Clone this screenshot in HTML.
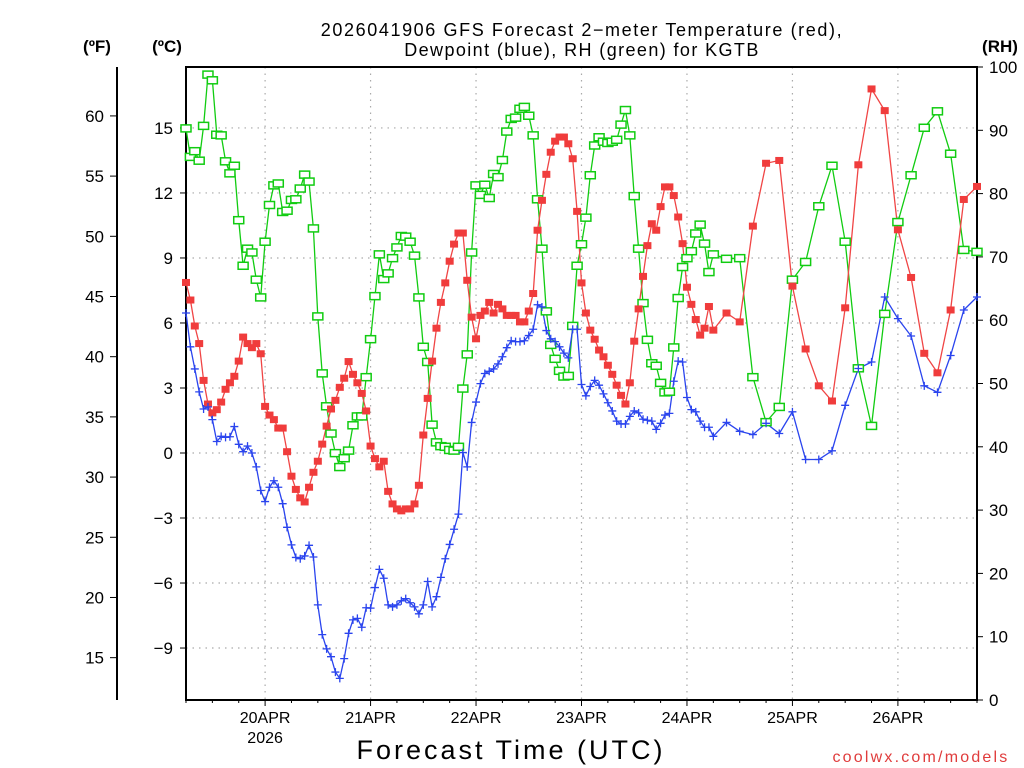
<!DOCTYPE html>
<html><head><meta charset="utf-8">
<style>
html,body{margin:0;padding:0;background:#fff;}
svg{display:block;font-family:"Liberation Sans",sans-serif;}
</style></head>
<body>
<svg id="chart" width="1024" height="768" viewBox="0 0 1024 768">
<text x="582" y="36" font-size="18" text-anchor="middle" letter-spacing="1.6">2026041906 GFS Forecast 2−meter Temperature (red),</text>
<text x="582" y="56" font-size="18" text-anchor="middle" letter-spacing="1.4">Dewpoint (blue), RH (green) for KGTB</text>
<text x="97" y="52" font-size="17" font-weight="bold" text-anchor="middle">(ºF)</text>
<text x="167" y="52" font-size="17" font-weight="bold" text-anchor="middle">(ºC)</text>
<text x="1000" y="52" font-size="17" font-weight="bold" text-anchor="middle">(RH)</text>
<text x="511" y="759" font-size="27" text-anchor="middle" letter-spacing="3">Forecast Time (UTC)</text>
<text x="921" y="762" font-size="16" fill="#e03c3c" text-anchor="middle" letter-spacing="2.2">coolwx.com/models</text>
<g id="grid"></g>
<g id="axes"></g>
<g id="series"></g>
</svg>
<script>
const hours = [0,1,2,3,4,5,6,7,8,9,10,11,12,13,14,15,16,17,18,19,20,21,22,23,24,25,26,27,28,29,30,31,32,33,34,35,36,37,38,39,40,41,42,43,44,45,46,47,48,49,50,51,52,53,54,55,56,57,58,59,60,61,62,63,64,65,66,67,68,69,70,71,72,73,74,75,76,77,78,79,80,81,82,83,84,85,86,87,88,89,90,91,92,93,94,95,96,97,98,99,100,101,102,103,104,105,106,107,108,109,110,111,112,113,114,115,116,117,118,119,120,123,126,129,132,135,138,141,144,147,150,153,156,159,162,165,168,171,174,177,180];
const tempC = [7.87,7.06,5.86,5.05,3.35,2.26,1.85,2.0,2.35,2.94,3.24,3.54,4.24,5.35,5.05,4.86,5.05,4.58,2.15,1.75,1.54,1.15,1.15,0.06,-1.07,-1.68,-2.07,-2.26,-1.58,-0.89,-0.38,0.41,1.24,2.03,2.43,3.03,3.45,4.22,3.63,3.24,2.75,1.94,0.32,-0.26,-0.64,
-0.38,-1.77,-2.35,-2.58,-2.67,-2.58,-2.58,-2.35,-1.49,0.83,2.52,4.24,5.76,6.95,7.85,8.85,9.64,10.15,10.15,7.97,6.27,5.27,6.35,6.55,6.95,6.46,6.86,6.65,6.35,6.35,6.35,6.05,6.05,6.55,7.36,10.28,11.66,12.86,13.88,14.39,14.58,14.58,14.27,13.58,11.15,7.85,
6.46,5.67,5.25,4.75,4.44,4.05,3.63,3.13,2.66,2.26,3.24,5.16,6.65,8.15,9.57,10.58,10.28,11.37,12.28,12.28,11.88,10.89,9.66,7.65,6.86,6.16,5.44,5.76,6.76,5.67,
6.46,6.05,10.47,13.37,13.5,7.7,4.8,3.1,2.4,6.7,13.3,16.8,15.8,10.3,8.1,4.6,3.7,6.6,11.7,12.3];
const dewC = [6.46,4.90,3.88,2.82,2.03,2.13,1.54,0.53,0.77,0.72,0.75,1.22,0.40,0.06,0.32,0,-0.64,-1.73,-2.24,-1.58,-1.28,-1.58,-2.34,-3.43,-4.24,-4.82,-4.88,-4.75,-4.26,-4.80,-7.01,-8.38,-9.04,-9.40,-10.11,-10.40,-9.49,-8.32,-7.70,-7.63,-8.04,-7.14,-7.16,-6.21,-5.37,
-5.78,-7.01,-7.10,-7.01,-6.82,-6.72,-6.91,-7.10,-7.42,-7.01,-5.93,-7.10,-6.63,-5.74,-4.88,-4.22,-3.52,-2.82,0.02,-0.64,1.41,2.35,3.20,3.67,3.77,3.88,4.11,4.44,4.86,5.18,5.14,5.14,5.18,5.42,5.71,6.84,6.74,5.65,5.27,5.14,4.90,4.61,4.39,5.71,5.71,
3.16,2.64,3.07,3.35,3.13,2.73,2.32,1.94,1.47,1.34,1.34,1.69,1.94,1.85,1.56,1.51,1.47,1.09,1.37,1.75,1.83,3.31,4.24,4.20,2.56,2.00,1.90,1.47,1.19,1.19,0.77,
1.41,1.00,0.85,1.37,0.9,1.9,-0.3,-0.3,0.1,2.2,3.9,4.2,7.2,6.2,5.4,3.1,2.8,4.5,6.6,7.2];
const rh = [90.3,85.8,86.7,85.2,90.7,98.8,97.9,89.3,89.2,85.1,83.2,84.4,75.8,68.6,71.3,70.7,66.4,63.6,72.4,78.2,81.3,81.6,77.1,77.3,79.0,79.1,80.8,83.0,81.9,74.5,60.6,51.6,46.4,42.1,39.0,36.8,38.2,39.4,43.4,44.8,44.8,51.0,57.0,63.8,70.4,
66.5,67.4,69.8,71.5,73.3,73.2,72.4,70.2,63.6,55.8,53.4,43.5,40.7,40.1,40.0,39.5,39.4,40.0,49.2,54.6,70.7,81.3,79.8,81.4,79.3,83.1,82.6,85.3,89.8,91.8,92.0,93.4,93.7,92.3,89.2,79.1,71.3,61.4,56.1,53.9,52.0,51.1,51.2,59.1,68.6,
72.0,76.2,82.9,87.6,88.9,88.2,88.0,88.2,88.5,90.9,93.2,89.2,79.6,71.3,62.7,56.9,53.2,52.8,50.1,48.6,48.7,55.7,63.5,68.4,69.8,70.9,73.7,75.1,72.1,67.6,70.4,
69.7,69.8,51.0,43.9,46.3,66.4,69.2,78.0,84.4,72.4,52.4,43.3,61.0,75.5,82.9,90.4,93.0,86.3,71.1,70.8];
const dayHours = [18,42,66,90,114,138,162];
const dayLabels = ["20APR","21APR","22APR","23APR","24APR","25APR","26APR"];
const cTicks = [-9,-6,-3,0,3,6,9,12,15];
const fTicks = [15,20,25,30,35,40,45,50,55,60];
const rhTicks = [0,10,20,30,40,50,60,70,80,90,100];

const X0=186,X1=977,Y0=67,Y1=700,HMAX=180;
const xs=h=>X0+(X1-X0)*h/HMAX;
const yC=c=>453-c*21.67;
const yF=f=>yC((f-32)*5/9);
const yRH=r=>Y1-(Y1-Y0)*r/100;
const NS="http://www.w3.org/2000/svg";
function mk(parent,tag,attrs,text){const e=document.createElementNS(NS,tag);for(const k in attrs)e.setAttribute(k,attrs[k]);if(text!==undefined)e.textContent=text;parent.appendChild(e);return e;}
const grid=document.getElementById('grid'),axes=document.getElementById('axes'),series=document.getElementById('series');

cTicks.forEach(c=>{
  const l=mk(grid,'line',{x1:X0,x2:X1,y1:yC(c),y2:yC(c),stroke:'#aaa','stroke-width':1.2,'stroke-dasharray':'1.5,5'});
  
  
  const t=mk(axes,'line',{x1:X0-6,x2:X0,y1:yC(c),y2:yC(c),stroke:'#000','stroke-width':1});
  
  
  const lb=mk(axes,'text',{x:173,y:yC(c)+6,'font-size':17,'text-anchor':'end'},c<0?'−'+Math.abs(c):String(c));
  
  
});
dayHours.forEach((h,i)=>{
  const l=mk(grid,'line',{x1:xs(h),x2:xs(h),y1:Y0,y2:Y1,stroke:'#aaa','stroke-width':1.2,'stroke-dasharray':'1.5,5'});
  
  
  const lb=mk(axes,'text',{x:xs(h),y:723,'font-size':16,'text-anchor':'middle'},dayLabels[i]);
  
  
});
const yr=mk(axes,'text',{x:xs(18),y:743,'font-size':16,'text-anchor':'middle'},'2026');


for(let h=0;h<=HMAX;h+=6){
  const t=mk(axes,'line',{x1:xs(h),x2:xs(h),y1:Y1,y2:Y1+(h%24===18?6:3),stroke:'#000','stroke-width':1});
  
  
}
fTicks.forEach(f=>{
  const t=mk(axes,'line',{x1:110,x2:117,y1:yF(f),y2:yF(f),stroke:'#000','stroke-width':1});
  
  
  const lb=mk(axes,'text',{x:104,y:yF(f)+6,'font-size':17,'text-anchor':'end'},String(f));
  
  
});
rhTicks.forEach(r=>{
  const t=mk(axes,'line',{x1:X1,x2:X1+6,y1:yRH(r),y2:yRH(r),stroke:'#000','stroke-width':1});
  
  
  const lb=mk(axes,'text',{x:989,y:yRH(r)+6,'font-size':17,'text-anchor':'start'},String(r));
  
  
});
const fAxis=mk(axes,'line',{x1:117,x2:117,y1:Y0,y2:Y1,stroke:'#000','stroke-width':2});


const frame=mk(axes,'rect',{x:X0,y:Y0,width:X1-X0,height:Y1-Y0,fill:'none',stroke:'#000','stroke-width':2});



function drawLine(vals,yf,color,name){
  const pts=hours.map((h,i)=>xs(h).toFixed(1)+','+yf(vals[i]).toFixed(1)).join(' ');
  const pl=mk(series,'polyline',{points:pts,fill:'none',stroke:color,'stroke-width':1.3});
  
  
}
drawLine(rh,yRH,'#11cc11','rh-line');
drawLine(tempC,yC,'#f04545','temperature-line');
drawLine(dewC,yC,'#2a44ee','dewpoint-line');
hours.forEach((h,i)=>{
  const x=xs(h);
  const g=mk(series,'rect',{x:x-5,y:yRH(rh[i])-3.5,width:10,height:7,fill:'#fff',stroke:'#11cc11','stroke-width':1.5});
  
  
});
hours.forEach((h,i)=>{
  const x=xs(h);
  const r=mk(series,'rect',{x:x-4,y:yC(tempC[i])-3.5,width:8,height:7,fill:'#f03c3c'});
  
  
});
hours.forEach((h,i)=>{
  const x=xs(h),y=yC(dewC[i]);
  const p=mk(series,'path',{d:`M${x-4},${y}H${x+4}M${x},${y-4}V${y+4}`,stroke:'#2a44ee','stroke-width':1.3,fill:'none'});
  
  
});
</script>
</body></html>
